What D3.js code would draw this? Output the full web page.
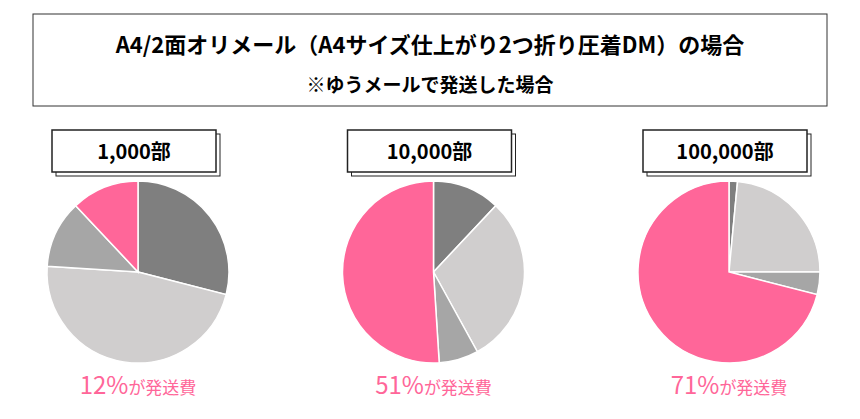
<!DOCTYPE html>
<html><head><meta charset="utf-8">
<script src="https://cdn.jsdelivr.net/npm/d3@7"></script>
<style>body{margin:0;background:#fff;font-family:"Noto Sans CJK JP","Noto Sans",sans-serif;}</style>
</head><body><svg id="svg" width="860" height="419"></svg>
<script>
// Data
const TITLE = 'A4/2面オリメール（A4サイズ仕上がり2つ折り圧着DM）の場合';
const SUB_TITLE = '※ゆうメールで発送した場合';
const labels = ['1,000部', '10,000部', '100,000部'];
const shares = ['12%', '51%', '71%'];
const slice1 = [29, 47, 12, 12];
const slice2 = [12, 30, 7, 51];
const slice3 = [1.5, 23.5, 4, 71];
const sliceColors = ['#7f7f7f', '#d0cece', '#a6a6a6', '#ff6699'];

const SVG = d3.select('#svg');
const W = 860;

// Title box
SVG.append('rect').attr('x', 33).attr('y', 14).attr('width', 794).attr('height', 92)
    .attr('fill', 'none').attr('stroke', '#333').attr('stroke-width', 1);
SVG.append('text').attr('x', W / 2).attr('y', 53).attr('text-anchor', 'middle')
    .style('font-size', '22px').style('font-weight', 'bold').text(TITLE);
SVG.append('text').attr('x', W / 2).attr('y', 92).attr('text-anchor', 'middle')
    .style('font-size', '19px').style('font-weight', 'bold').text(SUB_TITLE);

const centers = d3.scalePoint().domain(labels).range([138, 729]);
const pie = d3.pie().sort(null).value(d => d);
const arc = d3.arc().innerRadius(0).outerRadius(91);

[slice1, slice2, slice3].forEach((data, i) => {
    const cx = centers(labels[i]);
    const g = SVG.append('g');
    // label box (double border look)
    g.append('rect').attr('x', cx - 82).attr('y', 134).attr('width', 164).attr('height', 42)
        .attr('fill', '#fff').attr('stroke', '#222').attr('stroke-width', 1);
    g.append('rect').attr('x', cx - 86).attr('y', 130).attr('width', 164).attr('height', 42)
        .attr('fill', '#fff').attr('stroke', '#222').attr('stroke-width', 1.5);
    g.append('text').attr('x', cx - 4).attr('y', 159).attr('text-anchor', 'middle')
        .style('font-size', '20px').style('font-weight', 'bold').text(labels[i]);

    g.append('g').attr('transform', `translate(${cx},272)`)
        .selectAll('path').data(pie(data)).enter().append('path')
        .attr('d', arc).attr('fill', (d, j) => sliceColors[j])
        .attr('stroke', '#fff').attr('stroke-width', 1.5);

    const t = g.append('text').attr('x', cx).attr('y', 394).attr('text-anchor', 'middle')
        .attr('fill', '#ff6699');
    t.append('tspan').style('font-size', '24px').text(shares[i]);
    t.append('tspan').style('font-size', '17px').text('が発送費');
});
</script></body></html>
